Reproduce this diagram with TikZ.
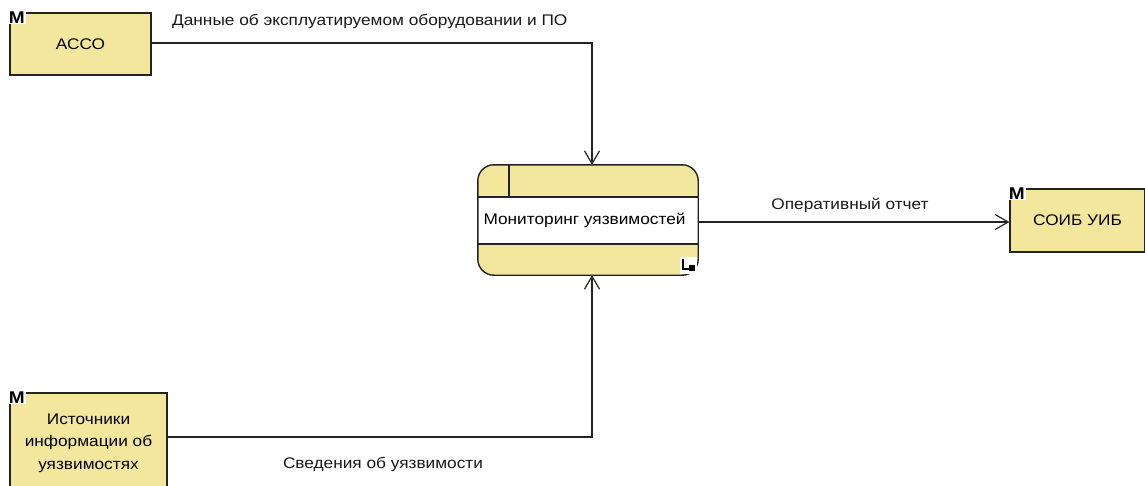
\documentclass[tikz,border=0pt]{standalone}
\usepackage{fontspec}
\setmainfont[FakeStretch=1.12]{Liberation Sans}
\usetikzlibrary{arrows.meta}
\definecolor{entfill}{RGB}{243,231,158}
\definecolor{edgecol}{RGB}{35,35,35}
\tikzset{
  entity/.style={draw=edgecol, line width=1.3pt, fill=entfill, inner sep=0pt, align=center},
  flow/.style={draw=edgecol, line width=1.2pt, -{Straight Barb[length=13pt, width=15pt, line width=1.2pt]}},
  lbl/.style={inner sep=0pt, font=\fontsize{15.4}{18}\selectfont, text=black!90}
}
\begin{document}
\begin{tikzpicture}[x=1pt, y=-1pt, font=\fontsize{15.4}{22.5}\selectfont]
\useasboundingbox (0,0) rectangle (1145,485);
\fill[white] (0,0) rectangle (1145,485);

% external entities
\node[entity, minimum width=141pt, minimum height=62pt] (acco) at (80.5,44) {АССО};
\node[entity, minimum width=135pt, minimum height=63pt] (soib) at (1077.5,220.5) {СОИБ УИБ};
\node[entity, minimum width=157pt, minimum height=100pt] (src) at (88.5,443) {Источники\\информации об\\уязвимостях};

% entity markers
\foreach \e in {acco, soib, src} {
  \node[fill=white, inner sep=0.8pt, anchor=north west, font=\fontsize{17}{17}\bfseries\selectfont] at ([xshift=-1.5pt, yshift=1.5pt]\e.north west) {M};
}

% process
\node[minimum width=220pt, minimum height=110pt, inner sep=0pt] (proc) at (588,220) {};
\begin{scope}
  \clip[rounded corners=16pt] (proc.north west) rectangle (proc.south east);
  \fill[entfill] (proc.north west) rectangle (proc.south east);
  \fill[white] (478,197) rectangle (698,244);
  \draw[edgecol, line width=1.3pt] (478,197) -- (698,197);
  \draw[edgecol, line width=1.3pt] (478,244) -- (698,244);
  \draw[edgecol, line width=1.3pt] (509,165) -- (509,197);
\end{scope}
\draw[edgecol, line width=1.4pt, rounded corners=16pt] (proc.north west) rectangle (proc.south east);
\node[inner sep=0pt] (proctext) at (584.5,220.5) {Мониторинг уязвимостей};

% decomposition icon
\node[fill=white, minimum width=17pt, minimum height=17pt, inner sep=0pt] (decomp) at (688.5,265.5) {};
\draw[black, line width=1.1pt] (683,258.5) -- (683,269) -- (691,269);
\fill[black] (688.5,264.5) rectangle (694.5,271);

% flows
\coordinate (inTop) at (592,165);
\coordinate (inBot) at (592,275);
\draw[flow] (acco.east |- 0,43) -| (inTop);
\draw[flow] (src.east |- 0,437) -| (inBot);
\draw[flow] (proc.east |- 0,222) -- (soib.west |- 0,222);

% flow labels
\node[lbl, anchor=west] (l1) at (172,21) {Данные об эксплуатируемом оборудовании и ПО};
\node[lbl] (l2) at (850,205) {Оперативный отчет};
\node[lbl] (l3) at (383,464) {Сведения об уязвимости};
\end{tikzpicture}
\end{document}
